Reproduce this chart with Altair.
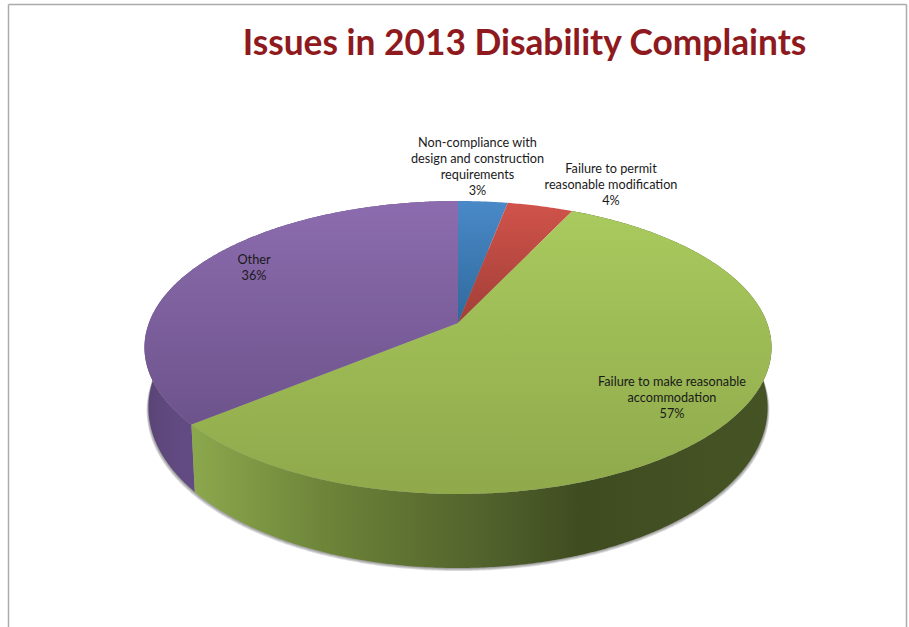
import math
import altair as alt
import pandas as pd

# Shares of the 2013 complaints, clockwise from twelve o'clock
issues = [
    "Non-compliance with\ndesign and construction\nrequirements",
    "Failure to permit\nreasonable modification",
    "Failure to make reasonable\naccommodation",
    "Other",
]
shares = [3, 4, 57, 36]

TOP_FACE = dict(cy=323.0, ax=309.1, ay=142.4)
BASE_RIM = dict(cy=380.7, ax=305.2, ay=156.0)
CENTER_X = 458.0
PERSPECTIVE = 0.1672


def rim_point(frac, plane):
    """Perspective projection of the point at a fraction of the turn on a disc's rim."""
    t = 2 * math.pi * frac
    u, v = math.sin(t), math.cos(t)
    w = 1 + PERSPECTIVE * v
    return [CENTER_X + plane["ax"] * u / w, plane["cy"] - plane["ay"] * v / w]


def rim_arc(a, b, plane):
    steps = max(2, int(abs(b - a) * 720))
    return [rim_point(a + (b - a) * i / steps, plane) for i in range(steps + 1)]


def feature(points):
    ring = points + [points[0]]
    return {"type": "Feature", "properties": {},
            "geometry": {"type": "Polygon", "coordinates": [ring]}}


def sector(a, b):
    return feature([[CENTER_X, TOP_FACE["cy"]]] + rim_arc(a, b, TOP_FACE))


def wall(a, b):
    return feature(rim_arc(a, b, TOP_FACE) + rim_arc(b, a, BASE_RIM))


def gradient(stops, horizontal=False):
    return alt.LinearGradient(
        gradient="linear", x1=0, y1=0,
        x2=1 if horizontal else 0, y2=0 if horizontal else 1,
        stops=[alt.GradientStop(offset=o, color=c) for o, c in stops],
    )


bounds = [sum(shares[:i]) / sum(shares) for i in range(len(shares) + 1)]

PROJECTION = alt.Projection(type="identity", scale=1, translate=[0, 0])


def shape(feat, **mark):
    return alt.Chart(alt.Data(values=[feat])).mark_geoshape(strokeWidth=0, **mark).project(**PROJECTION.to_dict())


face_fills = [
    gradient([(0, "#4a89c8"), (1, "#2f6a9c")]),
    gradient([(0, "#d0534a"), (1, "#a23f38")]),
    gradient([(0, "#a9ca5e"), (1, "#8fa94b")]),
    gradient([(0, "#8c6cae"), (1, "#6d538c")]),
]
green_wall = gradient(
    [(0, "#8ca84d"), (0.24, "#6c8338"), (0.53, "#4f5f2b"), (0.67, "#3f4c20"),
     (0.8, "#424f22"), (1, "#465425")],
    horizontal=True,
)
purple_wall = gradient([(0, "#5a4476"), (0.12, "#624b82"), (1, "#624b82")], horizontal=True)

# Soft shadow under the base, built from stacked translucent rims
shadow_layers = []
for lift in (1.0, 2.0, 3.0):
    rim = dict(BASE_RIM, cy=BASE_RIM["cy"] + lift, ax=BASE_RIM["ax"] + lift * 0.6)
    shadow_layers.append(shape(feature(rim_arc(0, 1, rim)), fill="#000000", opacity=0.14))

walls = [
    shape(wall(bounds[3], bounds[4]), fill=purple_wall),
    shape(wall(bounds[2], bounds[3]), fill=green_wall),
]
faces = [shape(sector(bounds[i], bounds[i + 1]), fill=face_fills[i]) for i in range(len(shares))]

frame_color = "#ababab"
frame = [
    alt.Chart(pd.DataFrame({"k": [0]})).mark_rule(color=frame_color, strokeWidth=1.5).encode(
        x=alt.value(8.5), y=alt.value(4.5), y2=alt.value(627)),
    alt.Chart(pd.DataFrame({"k": [0]})).mark_rule(color=frame_color, strokeWidth=1.5).encode(
        x=alt.value(906.5), y=alt.value(4.5), y2=alt.value(627)),
    alt.Chart(pd.DataFrame({"k": [0]})).mark_rule(color=frame_color, strokeWidth=1.5).encode(
        x=alt.value(8.5), x2=alt.value(906.5), y=alt.value(4.5)),
]


def label(i, x, y):
    text = f"{issues[i]}\n{shares[i]}%"
    return alt.Chart(pd.DataFrame({"t": [text]})).mark_text(
        font="Lato", fontSize=12.7, color="#1a1a1a", align="center", baseline="top",
        lineBreak="\n", lineHeight=16,
    ).encode(text="t:N", x=alt.value(x), y=alt.value(y))


labels = [
    label(0, 477.5, 136.5),
    label(1, 611, 162.5),
    label(2, 672, 375.5),
    label(3, 254, 253.5),
]

title = alt.Chart(pd.DataFrame({"t": ["Issues in 2013 Disability Complaints"]})).mark_text(
    font="Lato", fontWeight="bold", fontSize=35.3, color="#8e1a20", align="center", baseline="middle",
).encode(text="t:N", x=alt.value(524.5), y=alt.value(44))

chart = alt.layer(*frame, *shadow_layers, *walls, *faces, *labels, title).properties(
    width=909, height=627, padding=0, autosize=alt.AutoSizeParams(type="none"),
    background="white",
).configure_view(stroke=None)

chart.save("out.html", embed_options={"renderer": "svg", "actions": False})
